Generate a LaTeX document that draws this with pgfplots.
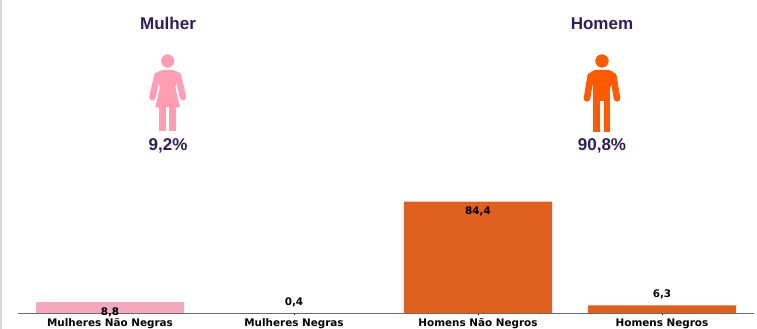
\documentclass[border=0pt]{standalone}
\usepackage{pgfplots}
\usepackage{fontspec}
\pgfplotsset{compat=1.18}
\setmainfont{Liberation Sans}
\newfontfamily\barfont{DejaVu Sans}
\definecolor{titlepurple}{HTML}{2E1E5B}
\definecolor{pinkbar}{HTML}{F2A9BC}
\definecolor{orangebar}{HTML}{E06020}
\definecolor{pinkicon}{HTML}{FF9DB4}
\definecolor{orangeicon}{HTML}{FF5A00}
\definecolor{baseline}{HTML}{6A6A6A}
\definecolor{edge}{HTML}{D9D9D9}
\pgfplotstableread{
x y
0 8.8
2 84.4
}\insidelabels
\pgfplotstableread{
x y
1 0.4
3 6.3
}\outsidelabels
\begin{document}
\begin{tikzpicture}[x=1pt,y=1pt]
\useasboundingbox (0,0) rectangle (757,329);
\fill[white] (0,0) rectangle (757,329);
\fill[edge] (0,0) rectangle (2,329);

% headings and totals
\node[anchor=base,font=\bfseries\fontsize{17}{19}\selectfont,text=titlepurple] at (168,299.3) {Mulher};
\node[anchor=base,font=\bfseries\fontsize{17}{19}\selectfont,text=titlepurple] at (602,299.3) {Homem};
\node[anchor=base,font=\bfseries\fontsize{17}{19}\selectfont,text=titlepurple] at (168,178.2) {9,2\%};
\node[anchor=base,font=\bfseries\fontsize{17}{19}\selectfont,text=titlepurple] at (602,178.2) {90,8\%};

% female pictogram
\begin{scope}[shift={(120,329)},xscale=1/3,yscale=-1/3]
  \fill[pinkicon] (143,183) circle[radius=20];
  \fill[pinkicon] (128,210) .. controls (120,212) and (112,214) .. (108,222) -- (120,262) -- (106,322) -- (180,322) -- (166,262) -- (178,222) .. controls (174,214) and (166,212) .. (158,210) -- cycle;
  \draw[pinkicon,line width=6.4pt,line cap=round] (112,226) -- (97,292);
  \draw[pinkicon,line width=6.4pt,line cap=round] (174,226) -- (189,292);
  \fill[pinkicon] (118,320) rectangle (138,394);
  \fill[pinkicon] (148,320) rectangle (168,394);
\end{scope}

% male pictogram
\begin{scope}[shift={(550,329)},xscale=1/3,yscale=-1/3]
  \fill[orangeicon] (156,183) circle[radius=20];
  \fill[orangeicon] (135,210) .. controls (126,212) and (120,216) .. (118,226) -- (130,262) -- (181,262) -- (194,226) .. controls (192,216) and (186,212) .. (177,210) -- cycle;
  \fill[orangeicon] (130,255) rectangle (181,302);
  \fill[orangeicon] (130,300) rectangle (150,397);
  \fill[orangeicon] (161,300) rectangle (181,397);
  \draw[orangeicon,line width=6.6pt,line cap=round] (122,228) -- (111,295);
  \draw[orangeicon,line width=6.6pt,line cap=round] (190,228) -- (201,295);
\end{scope}

\begin{axis}[
  at={(18pt,15.3pt)}, anchor=south west,
  scale only axis, width=736pt, height=132.7pt,
  xmin=-0.5, xmax=3.5, ymin=0, ymax=100,
  axis x line=bottom, axis y line=none,
  x axis line style={-,color=baseline,line width=1pt},
  xtick={0,1,2,3},
  xticklabels={Mulheres Não Negras,Mulheres Negras,Homens Não Negros,Homens Negros},
  x tick style={black,line width=0.6pt},
  major tick length=1.5pt,
  xticklabel style={font=\barfont\bfseries\fontsize{10.4}{11}\selectfont,inner sep=0pt,yshift=-3.4pt,text height=8pt,text depth=2.5pt},
  ybar, bar width=148pt, bar shift=0pt,
  clip=false,
  axis on top,
  /pgf/number format/.cd,use comma,fixed,fixed zerofill,precision=1,assume math mode=true,
]
\addplot[draw=none,fill=pinkbar] coordinates {(0,8.8) (1,0.4)};
\addplot[draw=none,fill=orangebar] coordinates {(2,84.4) (3,6.3)};
\addplot[draw=none,fill=none,
  nodes near coords,
  every node near coord/.append style={font=\barfont\bfseries\fontsize{10.4}{11}\selectfont,text=black,anchor=center,yshift=-10pt}]
  table[x=x,y=y] {\insidelabels};
\addplot[draw=none,fill=none,
  nodes near coords,
  every node near coord/.append style={font=\barfont\bfseries\fontsize{10.4}{11}\selectfont,text=black,anchor=center,yshift=10.5pt}]
  table[x=x,y=y] {\outsidelabels};
\end{axis}
\end{tikzpicture}
\end{document}
